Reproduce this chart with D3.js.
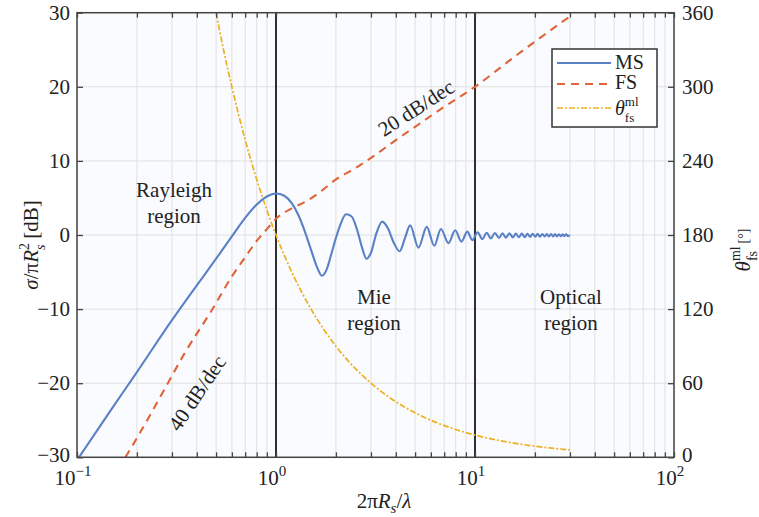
<!DOCTYPE html>
<html>
<head>
<meta charset="utf-8">
<script src="https://cdn.jsdelivr.net/npm/d3@7"></script>
<style>
  body { margin: 0; background: #fff; }
  text { font-family: "Liberation Serif", "Times New Roman", serif; fill: #222; }
</style>
</head>
<body>
<div id="chart"></div>
<script>
// data
const msKa = [0.1, 0.15, 0.2, 0.3, 0.4, 0.5, 0.6, 0.7, 0.8, 0.9, 1.0, 1.1, 1.2, 1.3, 1.4, 1.5, 1.6, 1.7, 1.8, 1.9, 2.0, 2.1, 2.25, 2.4, 2.55, 2.7, 2.85, 3.0, 3.2, 3.42, 3.65, 3.9, 4.18, 4.45, 4.72, 5.2, 5.72, 6.24, 6.74, 7.36, 7.95, 8.55, 9.15, 9.7, 10.3, 10.9, 11.45, 12.0, 12.6, 13.2, 13.75, 14.3, 14.9, 15.5, 16.05, 16.6, 17.2, 17.8, 18.35, 18.9, 19.5, 20.1, 20.65, 21.2, 21.8, 22.4, 22.95, 23.5, 24.1, 24.7, 25.25, 25.8, 26.4, 27.0, 27.55, 28.1, 28.7, 29.3, 30];
const msDb = [-30.4, -23.4, -18.5, -11.5, -6.8, -3.2, -0.2, 2.3, 4.1, 5.2, 5.6, 5.3, 4.3, 2.6, 0.4, -2.0, -4.2, -5.5, -4.6, -2.5, -0.4, 1.3, 2.8, 2.5, 0.8, -1.6, -3.2, -2.4, 0.3, 1.8, 0.9, -1.0, -2.2, -0.4, 1.3, -1.7, 1.1, -1.45, 0.8, -1.1, 0.65, -0.9, 0.45, -0.7, 0.35, -0.55, 0.3, -0.45, 0.27, -0.4, 0.24, -0.35, 0.22, -0.32, 0.2, -0.3, 0.18, -0.28, 0.17, -0.26, 0.16, -0.24, 0.15, -0.22, 0.14, -0.21, 0.13, -0.2, 0.12, -0.19, 0.12, -0.18, 0.11, -0.17, 0.1, -0.16, 0.1, -0.15, 0.0];

const fsKa = [0.175, 0.2, 0.282, 0.35, 0.472, 0.6, 0.7, 0.8, 0.9, 1.0, 1.2, 1.43, 1.7, 2.0, 2.5, 3, 4, 5, 7, 10, 15, 20, 30];
const fsDb = [-30, -27.4, -20.3, -15.8, -10.3, -5.6, -3.0, -0.8, 0.8, 2.2, 3.6, 4.6, 6.0, 7.5, 9.0, 10.4, 12.8, 14.6, 17.3, 20.0, 23.6, 26.1, 29.5];

const thKa = [0.5, 0.55, 0.6, 0.7, 0.8, 0.9, 1, 1.2, 1.5, 2, 2.5, 3, 4, 5, 6, 8, 10, 15, 20, 30];
const thDeg = [360, 327, 300, 257, 225, 200, 180, 150, 120, 90, 72, 60, 45, 36, 30, 22.5, 18, 12, 9, 6];

const leftTicks = [-30, -20, -10, 0, 10, 20, 30];
const rightTicks = [0, 60, 120, 180, 240, 300, 360];
const xMajor = [0.1, 1, 10, 100];
const xExp = ["\u22121", "0", "1", "2"];
const regionLines = [1, 10];

const W = 759, H = 517;
const L = 77, R = 674, T = 12.7, B = 457.3;

const svg = d3.select("#chart").append("svg")
    .attr("width", W).attr("height", H);

const x = d3.scaleLog().domain([0.1, 100]).range([L, R]);
const yL = d3.scaleLinear().domain([-30, 30]).range([B, T]);
const yR = d3.scaleLinear().domain([0, 360]).range([B, T]);

// plot background
svg.append("rect")
    .attr("x", L).attr("y", T).attr("width", R - L).attr("height", B - T)
    .attr("fill", "#fafbfe");

// grid
const xMinor = x.ticks();
svg.append("g").selectAll("line").data(xMinor).join("line")
    .attr("x1", d => x(d)).attr("x2", d => x(d))
    .attr("y1", T).attr("y2", B)
    .attr("stroke", "#e0e0e0").attr("stroke-width", 1);
svg.append("g").selectAll("line").data(leftTicks).join("line")
    .attr("x1", L).attr("x2", R)
    .attr("y1", d => yL(d)).attr("y2", d => yL(d))
    .attr("stroke", "#e0e0e0").attr("stroke-width", 1);

svg.append("defs").append("clipPath").attr("id", "clip")
    .append("rect").attr("x", L).attr("y", T).attr("width", R - L).attr("height", B - T);

// region borders
svg.append("g").selectAll("line").data(regionLines).join("line")
    .attr("x1", d => x(d)).attr("x2", d => x(d))
    .attr("y1", T).attr("y2", B)
    .attr("stroke", "#1a1a1a").attr("stroke-width", 1.8);

const plot = svg.append("g").attr("clip-path", "url(#clip)");

const lineL = d3.line().x(d => x(d[0])).y(d => yL(d[1])).curve(d3.curveMonotoneX);
const lineR = d3.line().x(d => x(d[0])).y(d => yR(d[1])).curve(d3.curveMonotoneX);

plot.append("path")
    .attr("d", lineR(d3.zip(thKa, thDeg)))
    .attr("fill", "none").attr("stroke", "#edb120").attr("stroke-width", 1.7)
    .attr("stroke-dasharray", "6,2,2,2");

plot.append("path")
    .attr("d", lineL(d3.zip(fsKa, fsDb)))
    .attr("fill", "none").attr("stroke", "#e0643a").attr("stroke-width", 2.1)
    .attr("stroke-dasharray", "8,6");

plot.append("path")
    .attr("d", lineL(d3.zip(msKa, msDb)))
    .attr("fill", "none").attr("stroke", "#5a80c6").attr("stroke-width", 2.1);

// axes
const fs = "21px";
const axLeft = svg.append("g").attr("transform", `translate(${L},0)`)
    .call(d3.axisLeft(yL).tickValues(leftTicks).tickSizeInner(-6).tickSizeOuter(0).tickPadding(7)
        .tickFormat(d => d < 0 ? "\u2212" + Math.abs(d) : d));
const axRight = svg.append("g").attr("transform", `translate(${R},0)`)
    .call(d3.axisRight(yR).tickValues(rightTicks).tickSizeInner(-6).tickSizeOuter(0).tickPadding(8));
const axBottom = svg.append("g").attr("transform", `translate(0,${B})`)
    .call(d3.axisBottom(x).tickValues(xMinor).tickSizeInner(-5).tickSizeOuter(0).tickFormat(""));
const axTop = svg.append("g").attr("transform", `translate(0,${T})`)
    .call(d3.axisTop(x).tickValues(xMinor).tickSizeInner(-5).tickSizeOuter(0).tickFormat(""));

[axLeft, axRight, axBottom, axTop].forEach(a => {
    a.select(".domain").remove();
    a.selectAll(".tick line").attr("stroke", "#444").attr("stroke-width", 1.3);
    a.selectAll("text").style("font-size", fs).style("font-family", "Liberation Serif").attr("fill", "#222");
});
// bottom labels sit a little higher so they clear the x tick labels
axLeft.selectAll(".tick text").filter(d => d === -30).attr("dy", "0.2em");
axRight.selectAll(".tick text").filter(d => d === 0).attr("dy", "0.2em");

// x tick labels with exponents
const xl = svg.append("g").selectAll("text").data(xMajor).join("text")
    .attr("x", d => x(d) - 4).attr("y", B + 28)
    .attr("text-anchor", "middle").style("font-size", fs);
xl.append("tspan").text("10");
xl.append("tspan").attr("dy", -9).style("font-size", "15px").text((d, i) => xExp[i]);

// frame
svg.append("rect")
    .attr("x", L).attr("y", T).attr("width", R - L).attr("height", B - T)
    .attr("fill", "none").attr("stroke", "#444").attr("stroke-width", 1.5);

// label built from separate text pieces; a nested array stacks sub/superscript at one x
function rich(parent, parts, anchor) {
    let cx = 0;
    parts.forEach(p => {
        const grp = Array.isArray(p) ? p : [p];
        let wmax = 0;
        grp.forEach(q => {
            const t = parent.append("text").attr("x", cx).attr("y", q.dy || 0)
                .style("font-size", q.size + "px")
                .style("font-style", q.it ? "italic" : "normal")
                .text(q.t);
            wmax = Math.max(wmax, t.node().getComputedTextLength());
        });
        cx += wmax;
    });
    if (anchor === "middle") parent.selectAll("text").attr("x", function () { return +this.getAttribute("x") - cx / 2; });
    return cx;
}

// axis labels
rich(svg.append("g").attr("transform", "translate(384,508)"), [
    { t: "2\u03c0", size: 21 },
    { t: "R", size: 21, it: true },
    { t: "s", size: 15, it: true, dy: 5 },
    { t: "/", size: 21 },
    { t: "\u03bb", size: 21, it: true }
], "middle");

rich(svg.append("g").attr("transform", "translate(38,245) rotate(-90)"), [
    { t: "\u03c3", size: 21, it: true },
    { t: "/\u03c0", size: 21 },
    { t: "R", size: 21, it: true },
    [{ t: "s", size: 14, it: true, dy: 7 }, { t: "2", size: 14, dy: -9 }],
    { t: "\u2009[dB]", size: 21 }
], "middle");

rich(svg.append("g").attr("transform", "translate(750,250) rotate(-90)"), [
    { t: "\u03b8", size: 21, it: true },
    [{ t: "fs", size: 14, dy: 7 }, { t: "ml", size: 14, dy: -10 }],
    { t: "\u2009[\u00b0]", size: 14, dy: -2 }
], "middle");

// region annotations
const notes = [
    { t: ["Rayleigh", "region"], cx: 174, cy: 197 },
    { t: ["Mie", "region"], cx: 374, cy: 304 },
    { t: ["Optical", "region"], cx: 571, cy: 304 }
];
notes.forEach(n => {
    n.t.forEach((s, i) => {
        svg.append("text").attr("x", n.cx).attr("y", n.cy + i * 26)
            .attr("text-anchor", "middle").style("font-size", "21px").text(s);
    });
});

svg.append("text").attr("transform", "translate(420,114) rotate(-33)")
    .attr("text-anchor", "middle").style("font-size", "21px").text("20 dB/dec");
svg.append("text").attr("transform", "translate(203,397) rotate(-56)")
    .attr("text-anchor", "middle").style("font-size", "21px").text("40 dB/dec");

// legend
const lg = svg.append("g");
lg.append("rect").attr("x", 552).attr("y", 49).attr("width", 105).attr("height", 78)
    .attr("fill", "#fff").attr("stroke", "#333").attr("stroke-width", 1.5);
const items = [
    { color: "#5a80c6", dash: null, w: 2.1, y: 63 },
    { color: "#e0643a", dash: "8,6", w: 2.1, y: 84 },
    { color: "#edb120", dash: "6,2,2,2", w: 1.7, y: 108 }
];
items.forEach(it => {
    lg.append("line").attr("x1", 557).attr("x2", 611).attr("y1", it.y).attr("y2", it.y)
        .attr("stroke", it.color).attr("stroke-width", it.w)
        .attr("stroke-dasharray", it.dash);
});
lg.append("text").attr("x", 615).attr("y", 69).style("font-size", "20px").text("MS");
lg.append("text").attr("x", 615).attr("y", 89).style("font-size", "20px").text("FS");
rich(lg.append("g").attr("transform", "translate(615,115)"), [
    { t: "\u03b8", size: 20, it: true },
    [{ t: "fs", size: 13, dy: 7 }, { t: "ml", size: 13, dy: -9 }]
]);
</script>
</body>
</html>
